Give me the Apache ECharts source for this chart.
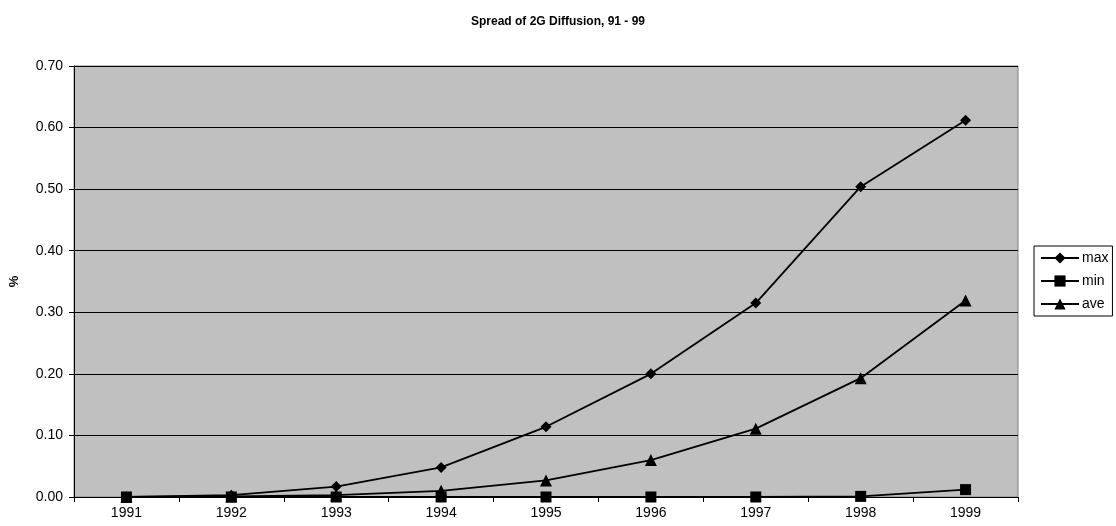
<!DOCTYPE html>
<html><head><meta charset="utf-8">
<script src="https://cdn.jsdelivr.net/npm/echarts@6/dist/echarts.min.js"></script>
<style>html,body{margin:0;padding:0;background:#fff}#c{width:1116px;height:526px}</style>
</head><body><div id="c"></div>
<script>
const years = ['1991','1992','1993','1994','1995','1996','1997','1998','1999'];
const maxVals = [0.000, 0.003, 0.017, 0.048, 0.114, 0.200, 0.315, 0.504, 0.612];
const minVals = [0.000, 0.000, 0.000, 0.000, 0.000, 0.000, 0.000, 0.001, 0.012];
const aveVals = [0.000, 0.001, 0.003, 0.010, 0.027, 0.060, 0.111, 0.193, 0.319];

const font = '"Liberation Sans", Arial, sans-serif';
const chart = echarts.init(document.getElementById('c'));
function ser(name, data, symbol, size) {
  return {name, type:'line', data, symbol, symbolSize:size, showAllSymbol:true,
    lineStyle:{color:'#000', width:1.8}, itemStyle:{color:'#000'}, z: 3};
}
chart.setOption({
  animation:false,
  backgroundColor:'#fff',
  title:{text:'Spread of 2G Diffusion, 91 - 99', left:'center', top:11,
    textStyle:{fontFamily:font, fontSize:12, fontWeight:'bold', color:'#000'}},
  grid:{left:74, right:98, top:66, bottom:29, containLabel:false, outerBoundsMode:'none',
    show:true, backgroundColor:'#c0c0c0', borderColor:'#808080', borderWidth:1},
  legend:{orient:'vertical', left:1034, top:246, itemWidth:38, itemHeight:14, itemGap:9,
    padding:[5,4,5,6], borderColor:'#000', borderWidth:1, backgroundColor:'#fff',
    textStyle:{fontFamily:font, fontSize:14, color:'#000', padding:[0,0,0,-2]},
    data:['max','min','ave']},
  xAxis:{type:'category', data:years, boundaryGap:true,
    axisLine:{lineStyle:{color:'#000', width:1}},
    axisTick:{show:true, length:5, lineStyle:{color:'#000'}},
    axisLabel:{fontFamily:font, fontSize:14, color:'#000', margin:9},
    splitLine:{show:false}},
  yAxis:{type:'value', min:0, max:0.7, interval:0.1, name:'%', nameLocation:'middle', nameGap:53, nameRotate:90,
    nameTextStyle:{fontFamily:font, fontSize:13, fontWeight:'bold', color:'#000'},
    axisLine:{show:true, lineStyle:{color:'#000', width:1}},
    axisTick:{show:true, length:5, lineStyle:{color:'#000'}},
    axisLabel:{fontFamily:font, fontSize:14, color:'#000', margin:11, formatter:v=>v.toFixed(2)},
    splitLine:{show:true, lineStyle:{color:'#000', width:1}}},
  series:[ser('max', maxVals, 'diamond', 11), ser('min', minVals, 'rect', 11), ser('ave', aveVals, 'triangle', 12)]
});
</script></body></html>
